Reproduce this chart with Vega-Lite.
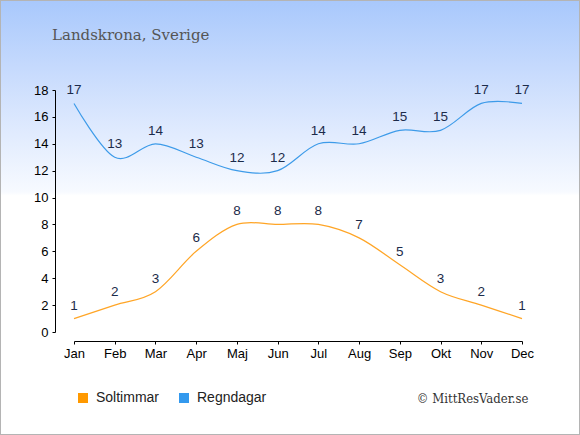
{
  "$schema": "https://vega.github.io/schema/vega-lite/v6.json",
  "width": 580,
  "height": 435,
  "autosize": "none",
  "padding": 0,
  "background": "#ffffff",
  "config": {
    "view": {
      "fill": {"gradient": "linear", "x1": 0, "y1": 0, "x2": 0, "y2": 0.45,
        "stops": [
          {"offset": 0, "color": "#a8c8fc"},
          {"offset": 0.35, "color": "#c6dafd"},
          {"offset": 0.7, "color": "#e2ecfe"},
          {"offset": 0.98, "color": "#f7faff"},
          {"offset": 1, "color": "#ffffff"}
        ]},
      "stroke": "#b4b4b4",
      "strokeWidth": 2
    },
    "font": "Liberation Sans"
  },
  "title": {
    "text": "Landskrona, Sverige",
    "anchor": "start",
    "frame": "group",
    "orient": "top",
    "offset": -55,
    "baseline": "alphabetic",
    "dx": 52,
    "font": "DejaVu Serif",
    "fontSize": 15,
    "fontWeight": "normal",
    "color": "#555555"
  },
  "data": {
    "values": [
      {"month": "Jan", "series": "Soltimmar", "value": 1},
      {"month": "Feb", "series": "Soltimmar", "value": 2},
      {"month": "Mar", "series": "Soltimmar", "value": 3},
      {"month": "Apr", "series": "Soltimmar", "value": 6},
      {"month": "Maj", "series": "Soltimmar", "value": 8},
      {"month": "Jun", "series": "Soltimmar", "value": 8},
      {"month": "Jul", "series": "Soltimmar", "value": 8},
      {"month": "Aug", "series": "Soltimmar", "value": 7},
      {"month": "Sep", "series": "Soltimmar", "value": 5},
      {"month": "Okt", "series": "Soltimmar", "value": 3},
      {"month": "Nov", "series": "Soltimmar", "value": 2},
      {"month": "Dec", "series": "Soltimmar", "value": 1},
      {"month": "Jan", "series": "Regndagar", "value": 17},
      {"month": "Feb", "series": "Regndagar", "value": 13},
      {"month": "Mar", "series": "Regndagar", "value": 14},
      {"month": "Apr", "series": "Regndagar", "value": 13},
      {"month": "Maj", "series": "Regndagar", "value": 12},
      {"month": "Jun", "series": "Regndagar", "value": 12},
      {"month": "Jul", "series": "Regndagar", "value": 14},
      {"month": "Aug", "series": "Regndagar", "value": 14},
      {"month": "Sep", "series": "Regndagar", "value": 15},
      {"month": "Okt", "series": "Regndagar", "value": 15},
      {"month": "Nov", "series": "Regndagar", "value": 17},
      {"month": "Dec", "series": "Regndagar", "value": 17}
    ]
  },
  "encoding": {
    "x": {
      "field": "month", "type": "ordinal",
      "sort": ["Jan","Feb","Mar","Apr","Maj","Jun","Jul","Aug","Sep","Okt","Nov","Dec"],
      "scale": {"type": "point", "range": [74, 522], "padding": 0},
      "axis": {
        "orient": "bottom", "offset": -94,
        "domainColor": "#000000", "tickColor": "#000000", "tickSize": 3,
        "labelAngle": 0, "labelFontSize": 13, "labelColor": "#000000", "labelPadding": 3,
        "title": "© MittResVader.se",
        "titleX": 528, "titleY": 57, "titleAlign": "right", "titleBaseline": "middle",
        "titleFont": "'DejaVu Serif Condensed', 'Liberation Serif', serif",
        "titleFontSize": 13, "titleFontWeight": "normal", "titleColor": "#333333"
      }
    },
    "y": {
      "field": "value", "type": "quantitative",
      "scale": {"domain": [0, 18], "range": [332, 90], "nice": false, "zero": true},
      "axis": {
        "orient": "left", "offset": -55,
        "values": [0,2,4,6,8,10,12,14,16,18],
        "grid": false, "title": null,
        "domainColor": "#000000", "tickColor": "#000000", "tickSize": 3,
        "labelFontSize": 13, "labelColor": "#000000", "labelPadding": 4
      }
    }
  },
  "layer": [
    {
      "mark": {"type": "line", "interpolate": "cardinal", "strokeWidth": 1.2},
      "encoding": {
        "color": {
          "field": "series", "type": "nominal",
          "scale": {"domain": ["Soltimmar", "Regndagar"], "range": ["#ffa526", "#3d9be9"]},
          "legend": {
            "orient": "none", "legendX": 76, "legendY": 391,
            "direction": "horizontal", "title": null,
            "symbolType": "square", "symbolSize": 100, "symbolStrokeWidth": 0,
            "labelFontSize": 14, "labelColor": "#222222", "labelOffset": 6,
            "columnPadding": 17,
            "encode": {
              "symbols": {"update": {"fill": {"signal": "datum.value === 'Soltimmar' ? '#ff9900' : '#3399ee'"}, "opacity": {"value": 1}}}
            }
          }
        }
      }
    },
    {
      "mark": {"type": "text", "dy": -13, "baseline": "middle", "fontSize": 13.5, "color": "#1c2b4a"},
      "encoding": {
        "text": {"field": "value", "type": "quantitative"},
        "detail": {"field": "series"}
      }
    }
  ]
}
